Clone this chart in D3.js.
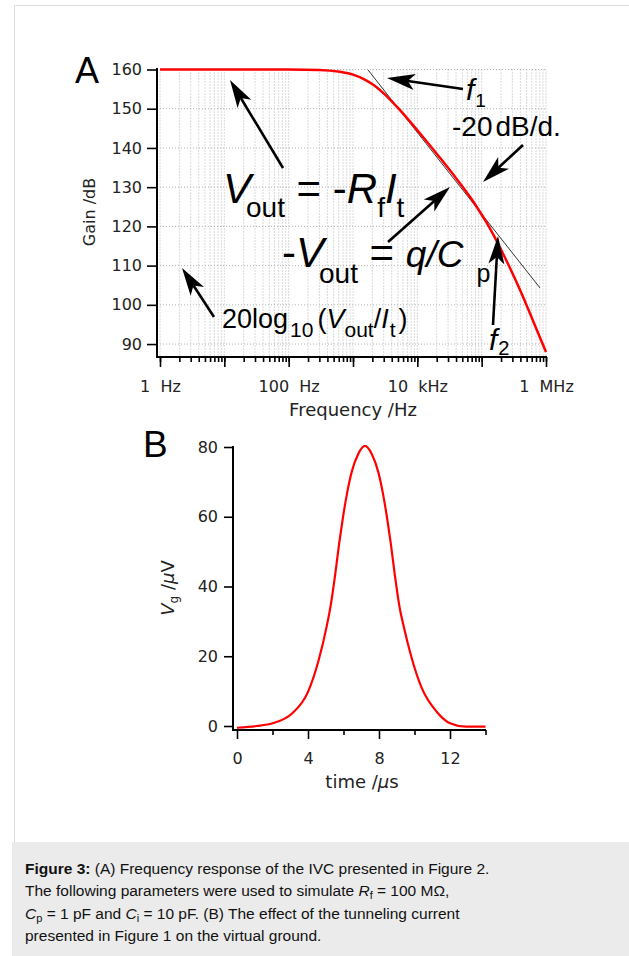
<!DOCTYPE html>
<html>
<head>
<meta charset="utf-8">
<script src="https://cdn.jsdelivr.net/npm/d3@7"></script>
<style>
    body { margin: 0; background: #fff; }
    #figure { position: relative; width: 629px; height: 956px; overflow: hidden; }
    svg { position: absolute; left: 0; top: 0; }
    .tick text, .lbl { font-family: "DejaVu Sans", sans-serif; fill: #222; white-space: pre; }
    .ann { font-family: "Liberation Sans", Arial, sans-serif; fill: #000; }
    #caption {
        position: absolute; left: 12px; top: 842px; width: 604px; height: 98px;
        background: #ebebeb; padding: 15.5px 0 0 13px;
        font-family: "Liberation Sans", Arial, sans-serif; font-size: 15.5px; line-height: 22.5px; color: #111;
    }
    #caption sub { font-size: 11px; line-height: 0; vertical-align: -3px; }
</style>
</head>
<body>
<div id="figure"></div>
<script>
// panel A: frequency response
const FREQ = [1, 10, 100, 300, 630, 1000, 1500, 2200, 3300, 5000, 8000, 13000, 22000,
    40000, 70000, 93000, 120000, 160000, 220000, 400000, 630000, 1000000];
const GAIN = [160, 160, 160, 159.9, 159.4, 158.7, 157.5, 155.8, 153.3, 150.2, 146.4, 142.3, 137.7,
    132.3, 126.9, 123.8, 120.9, 117.2, 112.7, 103.6, 95.9, 88];
const ASYM_FREQ = [1710, 807000];
const ASYM_GAIN = [159.9, 104.3];
const GAIN_TICKS = [90, 100, 110, 120, 130, 140, 150, 160];
const FREQ_LABEL_VALUES = [1, 100, 1e4, 1e6];
const FREQ_LABEL_TEXT = ["1  Hz", "100  Hz", "10  kHz", "1  MHz"];

// panel B: virtual ground
const TIME = [0, 1.1, 2.0, 3.1, 4.0, 4.58, 5.05, 5.26, 5.52, 5.76, 5.96, 6.21, 6.46, 6.83, 7.21,
    7.59, 7.96, 8.21, 8.46, 8.66, 8.9, 9.16, 9.37, 9.84, 10.4, 11.25, 12.0, 12.9, 14.0];
const VG = [-0.5, 0, 0.8, 3.6, 9.8, 18.5, 28.5, 34, 43, 52.5, 59.5, 67, 72.8, 78, 80.3,
    78, 72.8, 67, 59.5, 52.5, 43, 34, 29, 19.5, 11, 4.1, 0.8, -0.2, -0.2];
const VG_TICKS = [0, 20, 40, 60, 80];
const TIME_TICKS = [0, 4, 8, 12];
const TIME_MINOR = [2, 6, 10, 14];

const svg = d3.select("#figure")
    .append("svg")
        .attr("width", 629)
        .attr("height", 956);

// page frame
svg.append("path")
    .attr("d", "M14.5,842 V5.5 H640")
    .attr("fill", "none")
    .attr("stroke", "#dcdcdc");

// text with italic / subscript runs
function rich(g, x, y, size, parts, cls) {
    const t = g.append("text")
        .attr("class", cls || "ann")
        .attr("x", x)
        .attr("y", y)
        .style("font-size", size + "px")
        .style("white-space", "pre");
    let shift = 0;
    parts.forEach(p => {
        const s = p.sub || 0;
        const span = t.append("tspan")
            .attr("dy", s - shift)
            .text(p.t);
        if (p.dx) span.attr("dx", p.dx);
        if (p.size) span.style("font-size", p.size + "px");
        if (p.i) span.style("font-style", "italic");
        shift = s;
    });
    return t;
}

function arrow(g, x1, y1, x2, y2) {
    const len = Math.hypot(x2 - x1, y2 - y1);
    const ux = (x2 - x1) / len, uy = (y2 - y1) / len;
    const h = 28, w = 8, n = 7;
    const bx = x2 - ux * h, by = y2 - uy * h;
    g.append("line")
        .attr("x1", x1).attr("y1", y1)
        .attr("x2", x2 - ux * (h - n)).attr("y2", y2 - uy * (h - n))
        .attr("stroke", "#000")
        .attr("stroke-width", 2.6);
    g.append("path")
        .attr("d", `M${x2},${y2} L${bx - uy * w},${by + ux * w} L${x2 - ux * (h - n)},${y2 - uy * (h - n)} L${bx + uy * w},${by - ux * w} Z`)
        .attr("fill", "#000");
}

// ---------- A ----------
const xA = d3.scaleLog().domain([1, 1e6]).range([160, 546]);
const yA = d3.scaleLinear().domain([86.7, 160]).range([357, 69.5]);
const gA = svg.append("g");

const minorFreq = [];
for (let e = 0; e < 6; e++) {
    for (let k = 1; k < 10; k++) minorFreq.push(k * Math.pow(10, e));
}
minorFreq.push(1e6);

gA.append("g")
    .selectAll("line")
    .data(minorFreq)
    .enter()
    .append("line")
        .attr("x1", d => xA(d)).attr("x2", d => xA(d))
        .attr("y1", yA(160)).attr("y2", 357)
        .attr("stroke", "#b4b4b4")
        .attr("stroke-dasharray", "1,2");

gA.append("g")
    .selectAll("line")
    .data(GAIN_TICKS)
    .enter()
    .append("line")
        .attr("x1", 157).attr("x2", xA(1e6))
        .attr("y1", d => yA(d)).attr("y2", d => yA(d))
        .attr("stroke", "#b4b4b4")
        .attr("stroke-dasharray", "1,2");

// asymptote
gA.append("line")
    .attr("x1", xA(ASYM_FREQ[0])).attr("y1", yA(ASYM_GAIN[0]))
    .attr("x2", xA(ASYM_FREQ[1])).attr("y2", yA(ASYM_GAIN[1]))
    .attr("stroke", "#333")
    .attr("stroke-width", 1);

gA.append("path")
    .datum(FREQ.map((f, i) => [f, GAIN[i]]))
    .attr("fill", "none")
    .attr("stroke", "#ff0000")
    .attr("stroke-width", 2.5)
    .attr("d", d3.line().x(d => xA(d[0])).y(d => yA(d[1])).curve(d3.curveMonotoneX));

// axes
const axA = gA.append("g").attr("transform", "translate(157,0)")
    .call(d3.axisLeft(yA).tickValues(GAIN_TICKS).tickSize(10).tickPadding(5));
const axB = gA.append("g").attr("transform", "translate(0,357)")
    .call(d3.axisBottom(xA).tickValues(minorFreq).tickSize(5).tickFormat(""));
const axC = gA.append("g").attr("transform", "translate(0,357)")
    .call(d3.axisBottom(xA).tickValues([1, 10, 100, 1e3, 1e4, 1e5, 1e6]).tickSize(10).tickPadding(13.5)
        .tickFormat(d => {
            const i = FREQ_LABEL_VALUES.indexOf(d);
            return i < 0 ? "" : FREQ_LABEL_TEXT[i];
        }));
[axA, axB, axC].forEach(a => {
    a.select(".domain").remove();
    a.selectAll(".tick line").attr("stroke", "#000").attr("stroke-width", 1.6);
    a.selectAll(".tick text").style("font-size", "16px");
});
gA.append("line").attr("x1", 157).attr("x2", 157).attr("y1", 68).attr("y2", 358)
    .attr("stroke", "#000").attr("stroke-width", 2);
gA.append("line").attr("x1", 156).attr("x2", 547).attr("y1", 357).attr("y2", 357)
    .attr("stroke", "#000").attr("stroke-width", 2);

gA.append("text").attr("class", "lbl")
    .attr("transform", "translate(95,212) rotate(-90)")
    .attr("text-anchor", "middle")
    .style("font-size", "16px")
    .text("Gain /dB");
gA.append("text").attr("class", "lbl")
    .attr("x", 353).attr("y", 416)
    .attr("text-anchor", "middle")
    .style("font-size", "18px")
    .text("Frequency /Hz");

// annotations A
rich(gA, 75, 83, 36, [{ t: "A" }]);
rich(gA, 223, 203, 42, [
    { t: "V", i: true }, { t: "out", sub: 14, size: 28, dx: -5 }, { t: " = -" },
    { t: "R", i: true }, { t: "f", sub: 14, size: 28 }, { t: "I", i: true }, { t: "t", sub: 14, size: 28 }
]);
rich(gA, 282, 267, 42, [
    { t: "-" }, { t: "V", i: true }, { t: "out", sub: 16, size: 28, dx: -5 }, { t: " = " },
    { t: "q/C", i: true, size: 37 }, { t: "p", sub: 15, size: 25, dx: 13 }
]);
rich(gA, 222, 328, 27, [
    { t: "20log" }, { t: "10", sub: 9, size: 21, dx: 2 }, { t: "(", dx: 4 }, { t: "V", i: true },
    { t: "out", sub: 9, size: 21 }, { t: "/" }, { t: "I", i: true }, { t: "t", sub: 9, size: 21, dx: 1 }, { t: ")", dx: 3 }
]);
rich(gA, 452, 136, 28, [{ t: "-20" }, { t: "dB/d.", dx: 3 }]);
rich(gA, 466, 100, 30, [{ t: "f", i: true }, { t: "1", sub: 7, size: 19, dx: 1 }]);
rich(gA, 489, 350, 30, [{ t: "f", i: true }, { t: "2", sub: 5, size: 20, dx: 1 }]);

arrow(gA, 283, 168, 230, 80);
arrow(gA, 463, 89, 387, 78);
arrow(gA, 523, 145, 483, 182);
arrow(gA, 388, 242, 450, 187);
arrow(gA, 493, 325, 498, 236);
arrow(gA, 214, 317, 182, 268);

// ---------- B ----------
const xB = d3.scaleLinear().domain([0, 14]).range([237, 485.5]);
const yB = d3.scaleLinear().domain([0, 80]).range([726, 447]);
const gB = svg.append("g");

gB.append("path")
    .datum(TIME.map((t, i) => [t, VG[i]]))
    .attr("fill", "none")
    .attr("stroke", "#ff0000")
    .attr("stroke-width", 2.2)
    .attr("d", d3.line().x(d => xB(d[0])).y(d => yB(d[1])).curve(d3.curveMonotoneX));

const bY = gB.append("g").attr("transform", "translate(233,0)")
    .call(d3.axisLeft(yB).tickValues(VG_TICKS).tickSize(9).tickPadding(6));
const bX = gB.append("g").attr("transform", "translate(0,730)")
    .call(d3.axisBottom(xB).tickValues(TIME_TICKS).tickSize(9).tickPadding(13.5));
const bXm = gB.append("g").attr("transform", "translate(0,730)")
    .call(d3.axisBottom(xB).tickValues(TIME_MINOR).tickSize(5).tickFormat(""));
[bY, bX, bXm].forEach(a => {
    a.select(".domain").remove();
    a.selectAll(".tick line").attr("stroke", "#000").attr("stroke-width", 1.6);
    a.selectAll(".tick text").style("font-size", "16px");
});
gB.append("line").attr("x1", 233).attr("x2", 233).attr("y1", 446).attr("y2", 731)
    .attr("stroke", "#000").attr("stroke-width", 2);
gB.append("line").attr("x1", 232).attr("x2", 486).attr("y1", 730).attr("y2", 730)
    .attr("stroke", "#000").attr("stroke-width", 2);

const tl = gB.append("text").attr("class", "lbl")
    .attr("x", 362).attr("y", 788)
    .attr("text-anchor", "middle")
    .style("font-size", "18px");
tl.append("tspan").text("time /");
tl.append("tspan").style("font-style", "italic").text("µ");
tl.append("tspan").text("s");

const vl = gB.append("text").attr("class", "lbl")
    .attr("transform", "translate(174,588) rotate(-90)")
    .attr("text-anchor", "middle")
    .style("font-size", "18px");
vl.append("tspan").style("font-style", "italic").text("V");
vl.append("tspan").attr("dy", 4).style("font-size", "12px").text("g");
vl.append("tspan").attr("dy", -4).text(" /");
vl.append("tspan").style("font-style", "italic").text("µ");
vl.append("tspan").text("V");

rich(gB, 143, 457, 37, [{ t: "B" }]);

// caption
d3.select("#figure")
    .append("div")
    .attr("id", "caption")
    .html("<b>Figure 3:</b> (A) Frequency response of the IVC presented in Figure 2.<br>" +
        "The following parameters were used to simulate <i>R</i><sub>f</sub> = 100 MΩ,<br>" +
        "<i>C</i><sub>p</sub> = 1 pF and <i>C</i><sub>i</sub> = 10 pF. (B) The effect of the tunneling current<br>" +
        "presented in Figure 1 on the virtual ground.");
</script>
</body>
</html>
